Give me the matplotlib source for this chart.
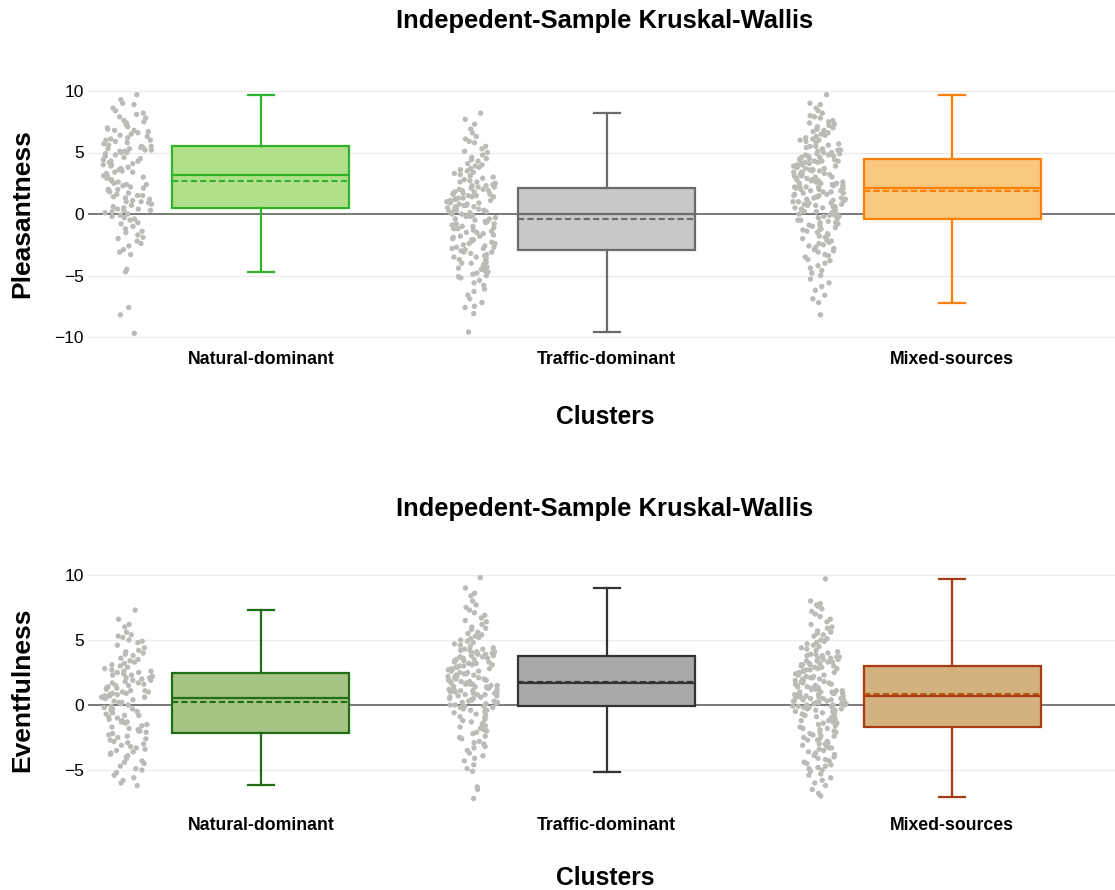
import matplotlib
matplotlib.use("Agg")
import matplotlib.pyplot as plt
import numpy as np

plt.rcParams['font.family'] = ['Liberation Sans', 'DejaVu Sans']

clusters = ["Natural-dominant", "Traffic-dominant", "Mixed-sources"]
title_text = "Indepedent-Sample Kruskal-Wallis"

# box statistics: [natural, traffic, mixed]
pleas_q1 = [0.46, -2.90, -0.43]
pleas_med = [3.20, 0.00, 2.14]
pleas_q3 = [5.53, 2.09, 4.44]
pleas_lo = [-4.69, -9.60, -7.20]
pleas_hi = [9.67, 8.24, 9.67]
pleas_mean = [2.70, -0.38, 1.87]

event_q1 = [-2.13, -0.08, -1.67]
event_med = [0.51, 1.72, 0.68]
event_q3 = [2.44, 3.77, 3.03]
event_lo = [-6.18, -5.13, -7.05]
event_hi = [7.28, 9.03, 9.72]
event_mean = [0.23, 1.75, 0.85]

# individual scores (estimated from the scatter)
pleas_natural = [
    -9.7, -8.2, -7.6, -4.7, -4.5, -3.3, -3.1, -2.9, -2.6, -2.4, -2.2, -2.0, -1.9, -1.7, -1.5, -1.4,
    -1.2, -1.0, -0.8, -0.7, -0.5, -0.4, -0.3, -0.2, -0.1, 0.0, 0.1, 0.2, 0.3, 0.3, 0.4, 0.4,
    0.5, 0.6, 0.7, 0.8, 0.9, 1.0, 1.0, 1.1, 1.2, 1.3, 1.4, 1.5, 1.5, 1.6, 1.7, 1.8,
    1.9, 2.0, 2.0, 2.1, 2.2, 2.3, 2.4, 2.4, 2.5, 2.6, 2.7, 2.8, 2.9, 3.0, 3.1, 3.1,
    3.3, 3.4, 3.4, 3.5, 3.6, 3.7, 3.8, 3.9, 4.0, 4.0, 4.1, 4.2, 4.3, 4.3, 4.4, 4.5,
    4.6, 4.7, 4.8, 4.9, 5.0, 5.0, 5.1, 5.1, 5.2, 5.2, 5.3, 5.3, 5.4, 5.4, 5.5, 5.5,
    5.6, 5.7, 5.8, 5.9, 6.0, 6.0, 6.1, 6.2, 6.3, 6.4, 6.5, 6.6, 6.7, 6.8, 6.8, 6.9,
    7.0, 7.1, 7.3, 7.4, 7.5, 7.6, 7.8, 7.9, 8.1, 8.2, 8.4, 8.6, 8.9, 9.0, 9.3, 9.7,
]
pleas_traffic = [
    8.2, 7.7, 7.3, 6.9, 6.6, 6.3, 6.1, 5.9, 5.8, 5.5, 5.3, 5.1, 5.0, 4.8, 4.6, 4.5, 4.4, 4.3, 4.1, 4.0,
    3.9, 3.8, 3.7, 3.6, 3.5, 3.4, 3.3, 3.2, 3.1, 3.0, 2.9, 2.8, 2.7, 2.6, 2.6, 2.5, 2.4, 2.3, 2.3, 2.2,
    2.2, 2.1, 2.0, 2.0, 1.9, 1.9, 1.8, 1.8, 1.7, 1.7, 1.6, 1.6, 1.5, 1.5, 1.4, 1.4, 1.3, 1.3, 1.2, 1.2,
    1.1, 1.1, 1.0, 1.0, 0.9, 0.9, 0.8, 0.8, 0.7, 0.7, 0.6, 0.6, 0.5, 0.5, 0.4, 0.4, 0.3, 0.3, 0.2, 0.2,
    0.1, 0.1, 0.0, 0.0, -0.1, -0.1, -0.2, -0.2, -0.3, -0.4, -0.4, -0.5, -0.6, -0.6, -0.7, -0.8, -0.8,
    -0.9, -1.0, -1.0, -1.1, -1.2, -1.2, -1.3, -1.4, -1.5, -1.5, -1.6, -1.7, -1.8, -1.8, -1.9, -2.0,
    -2.1, -2.1, -2.2, -2.3, -2.4, -2.4, -2.5, -2.6, -2.7, -2.7, -2.8, -2.8, -2.9, -3.0, -3.1, -3.1,
    -3.2, -3.3, -3.4, -3.5, -3.5, -3.6, -3.7, -3.8, -3.9, -4.0, -4.0, -4.1, -4.2, -4.3, -4.4, -4.5,
    -4.6, -4.7, -4.8, -4.9, -5.0, -5.1, -5.2, -5.4, -5.6, -5.8, -6.1, -6.3, -6.6, -6.9, -7.2, -7.5,
    -7.6, -8.1, -9.6,
]
pleas_mixed = [
    9.7, 9.0, 8.9, 8.6, 8.4, 8.2, 8.0, 7.9, 7.8, 7.6, 7.5, 7.4, 7.3, 7.2, 7.1, 7.0, 6.9, 6.8, 6.7, 6.6,
    6.5, 6.4, 6.3, 6.2, 6.1, 6.0, 6.0, 5.9, 5.8, 5.7, 5.6, 5.5, 5.5, 5.4, 5.3, 5.2, 5.2, 5.1, 5.0, 5.0,
    4.9, 4.9, 4.8, 4.8, 4.7, 4.7, 4.6, 4.6, 4.5, 4.5, 4.4, 4.4, 4.3, 4.3, 4.3, 4.2, 4.2, 4.1, 4.1, 4.0,
    4.0, 3.9, 3.9, 3.8, 3.8, 3.7, 3.7, 3.6, 3.6, 3.5, 3.5, 3.4, 3.4, 3.3, 3.3, 3.2, 3.2, 3.1, 3.1, 3.0,
    3.0, 2.9, 2.9, 2.8, 2.8, 2.7, 2.7, 2.6, 2.6, 2.5, 2.5, 2.5, 2.4, 2.4, 2.3, 2.3, 2.3, 2.2, 2.2, 2.2,
    2.1, 2.1, 2.0, 2.0, 1.9, 1.9, 1.8, 1.8, 1.7, 1.7, 1.6, 1.6, 1.5, 1.5, 1.4, 1.4, 1.3, 1.3, 1.2, 1.2,
    1.1, 1.1, 1.0, 1.0, 0.9, 0.9, 0.8, 0.8, 0.7, 0.7, 0.6, 0.6, 0.5, 0.5, 0.4, 0.4, 0.3, 0.3, 0.2, 0.2,
    0.1, 0.1, 0.0, 0.0, -0.1, -0.1, -0.2, -0.2, -0.3, -0.4, -0.5, -0.5, -0.6, -0.7, -0.7, -0.8, -0.9,
    -0.9, -1.0, -1.1, -1.2, -1.3, -1.3, -1.4, -1.5, -1.6, -1.7, -1.8, -1.9, -2.0, -2.1, -2.2, -2.3,
    -2.4, -2.5, -2.6, -2.7, -2.8, -2.9, -3.0, -3.1, -3.3, -3.4, -3.5, -3.7, -3.8, -4.0, -4.2, -4.4,
    -4.6, -4.8, -5.0, -5.3, -5.6, -5.9, -6.2, -6.6, -6.9, -7.2, -8.2,
]

event_natural = [
    7.3, 6.6, 6.2, 6.0, 5.6, 5.4, 5.3, 5.2, 5.0, 4.9, 4.8, 4.6, 4.4, 4.2, 4.1, 4.0, 3.9, 3.8, 3.6, 3.5,
    3.4, 3.3, 3.2, 3.1, 3.0, 2.9, 2.8, 2.7, 2.6, 2.6, 2.5, 2.5,
    2.4, 2.3, 2.3, 2.2, 2.1, 2.1, 2.0, 1.9, 1.9, 1.8, 1.7, 1.7, 1.6, 1.5, 1.5, 1.4, 1.3, 1.3, 1.2, 1.1,
    1.1, 1.0, 1.0, 0.9, 0.9, 0.8, 0.8, 0.7, 0.7, 0.6, 0.6, 0.5,
    0.5, 0.4, 0.3, 0.2, 0.2, 0.1, 0.0, -0.1, -0.2, -0.3, -0.3, -0.4, -0.5, -0.6, -0.7, -0.8, -0.8,
    -0.9, -1.0, -1.1, -1.2, -1.3, -1.3, -1.4, -1.5, -1.6, -1.7, -1.8, -1.9, -2.0, -2.0, -2.1,
    -2.2, -2.3, -2.4, -2.5, -2.6, -2.7, -2.8, -2.9, -3.0, -3.1, -3.2, -3.3, -3.4, -3.5, -3.6, -3.7,
    -3.8, -3.9, -4.0, -4.1, -4.3, -4.4, -4.5, -4.7, -4.9, -5.0, -5.2, -5.4, -5.6, -5.8, -6.0, -6.2,
]
event_traffic = [
    9.8, 9.0, 8.6, 8.4, 8.0, 7.7, 7.5, 7.3, 7.1, 6.9, 6.7, 6.5, 6.4, 6.2, 6.0, 5.9, 5.8, 5.6, 5.5, 5.4,
    5.3, 5.2, 5.1, 5.0, 4.9, 4.8, 4.7, 4.6, 4.5, 4.4, 4.3, 4.3, 4.2, 4.2, 4.1, 4.1, 4.0, 4.0, 3.9, 3.9,
    3.8, 3.8, 3.7, 3.7, 3.6, 3.6, 3.5, 3.5, 3.4, 3.4, 3.3, 3.3, 3.2, 3.2, 3.1, 3.1, 3.0, 3.0, 2.9, 2.9,
    2.8, 2.8, 2.7, 2.7, 2.6, 2.6, 2.5, 2.5, 2.4, 2.4, 2.3, 2.3, 2.2, 2.2, 2.1, 2.1, 2.0, 2.0, 1.9, 1.9,
    1.8, 1.8, 1.8, 1.7, 1.7, 1.6, 1.6, 1.6, 1.5, 1.5, 1.4, 1.4, 1.4, 1.3, 1.3, 1.2, 1.2, 1.2, 1.1, 1.1,
    1.0, 1.0, 1.0, 0.9, 0.9, 0.8, 0.8, 0.8, 0.7, 0.7, 0.6, 0.6, 0.5, 0.5, 0.4, 0.4, 0.3, 0.3, 0.2, 0.2,
    0.1, 0.1, 0.0, 0.0, -0.1, -0.1, -0.2, -0.2, -0.3, -0.4, -0.4, -0.5, -0.6, -0.7, -0.8, -0.9, -1.0,
    -1.1, -1.2, -1.3, -1.4, -1.5, -1.6, -1.7, -1.8, -1.9, -2.0, -2.1, -2.2, -2.4, -2.5, -2.6, -2.8,
    -2.9, -3.0, -3.2, -3.3, -3.5, -3.7, -3.9, -4.1, -4.3, -4.6, -4.9, -5.1, -6.3, -6.5, -7.2,
]
event_mixed = [
    9.7, 8.0, 7.8, 7.7, 7.6, 7.4, 7.2, 7.0, 6.8, 6.6, 6.4, 6.2, 6.0, 5.9, 5.7, 5.6, 5.5, 5.4, 5.3, 5.1,
    5.0, 4.9, 4.8, 4.7, 4.6, 4.5, 4.4, 4.3, 4.2, 4.1, 4.0, 3.9, 3.9, 3.8, 3.8, 3.7, 3.7, 3.6, 3.6, 3.5,
    3.5, 3.4, 3.4, 3.3, 3.3, 3.2, 3.2, 3.1, 3.1, 3.1, 3.0, 3.0, 2.9, 2.9, 2.8, 2.8, 2.7, 2.7, 2.6, 2.6,
    2.5, 2.5, 2.4, 2.4, 2.3, 2.3, 2.2, 2.2, 2.1, 2.1, 2.0, 2.0, 1.9, 1.9, 1.8, 1.8, 1.7, 1.7, 1.6, 1.6,
    1.5, 1.5, 1.4, 1.4, 1.3, 1.3, 1.2, 1.2, 1.1, 1.1, 1.0, 1.0, 1.0, 0.9, 0.9, 0.9, 0.8, 0.8, 0.8, 0.7,
    0.7, 0.6, 0.6, 0.6, 0.5, 0.5, 0.5, 0.4, 0.4, 0.4, 0.3, 0.3, 0.3, 0.2, 0.2, 0.2, 0.1, 0.1, 0.1, 0.0,
    0.0, 0.0, -0.1, -0.1, -0.1, -0.2, -0.2, -0.3, -0.3, -0.4, -0.4, -0.5, -0.5, -0.6, -0.6, -0.7, -0.7,
    -0.8, -0.8, -0.9, -1.0, -1.0, -1.1, -1.2, -1.2, -1.3, -1.4, -1.4, -1.5, -1.6,
    -1.7, -1.8, -1.8, -1.9, -2.0, -2.1, -2.1, -2.2, -2.3, -2.4, -2.4, -2.5, -2.6, -2.7, -2.7, -2.8,
    -2.9, -3.0, -3.0, -3.1, -3.2, -3.3, -3.3, -3.4, -3.5, -3.6, -3.7, -3.8, -3.9, -4.0, -4.1, -4.2,
    -4.3, -4.4, -4.5, -4.6, -4.7, -4.8, -4.9, -5.0, -5.1, -5.3, -5.4, -5.6, -5.8, -6.0, -6.2, -6.5,
    -6.8, -7.0,
]

top_lines = ["#2fb32a", "#6b6b6b", "#ff7f00"]
top_fills = ["#b2df8a", "#c8c8c8", "#f9c880"]
bot_lines = ["#1f6d14", "#333333", "#a83b12"]
bot_fills = ["#a6c486", "#a8a8a8", "#d4b27f"]
bot_means = ["#1f6d14", "#333333", "#b8560c"]

W, H = 1115, 890
PX_PER_CAT = 345.7
X_LEFT = 88
BOX_W = 0.512
PTS_OFFSET = -0.385
JITTER = 0.08


def jitter_offsets(values):
    """Spread points sideways in proportion to the local density (violin-like)."""
    v = np.asarray(values, dtype=float)
    dens = np.exp(-0.5 * ((v[:, None] - v[None, :]) / 0.9) ** 2).sum(axis=1)
    dens = dens / dens.max()
    idx = np.arange(len(v)) + 1.0
    # deterministic hash-like sequence in [-1, 1] for sideways placement
    u = (np.sin(idx * 12.9898) * 43758.5453) % 1.0 * 2 - 1
    return u * JITTER * (0.25 + 0.75 * dens)


def draw_panel(ax, groups, q1, med, q3, lo, hi, mean, lines, fills, means, ylim, yticks):
    ax.set_xlim(-0.5, -0.5 + (W - X_LEFT) / PX_PER_CAT)
    ax.set_ylim(*ylim)
    for yt in yticks:
        if yt != 0:
            ax.axhline(yt, color="#ececec", lw=1.0, zorder=0)
    ax.axhline(0, color="#6e6e6e", lw=1.3, zorder=1)

    for i, vals in enumerate(groups):
        xs = i + PTS_OFFSET + jitter_offsets(vals)
        ax.scatter(xs, vals, s=15, color="#bdbbb8", edgecolors="none", zorder=2)

        stats = [dict(q1=q1[i], med=med[i], q3=q3[i], whislo=lo[i], whishi=hi[i],
                      mean=mean[i], fliers=[])]
        c = lines[i]
        bp = ax.bxp(stats, positions=[i], widths=BOX_W, capwidths=0.075,
                    patch_artist=True, showmeans=True, meanline=True,
                    showfliers=False, manage_ticks=False,
                    boxprops=dict(facecolor=fills[i], edgecolor=c, linewidth=1.6),
                    whiskerprops=dict(color=c, linewidth=1.6),
                    capprops=dict(color=c, linewidth=1.6),
                    medianprops=dict(color=c, linewidth=1.6),
                    meanprops=dict(color=means[i], linewidth=1.5, linestyle=(0, (3, 1.5))))
        for art in bp["boxes"]:
            art.set_zorder(3)
        for key in ("whiskers", "caps", "medians", "means"):
            for art in bp[key]:
                art.set_zorder(4)

    ax.set_yticks(yticks)
    ax.set_yticklabels([f"{t}".replace("-", "\u2212") for t in yticks], fontsize=12.5)
    ax.set_xticks(range(len(clusters)))
    ax.set_xticklabels(clusters, fontsize=12.7, fontweight="bold")
    ax.tick_params(axis="both", length=0)
    ax.tick_params(axis="y", pad=3)
    ax.tick_params(axis="x", pad=6)
    for sp in ax.spines.values():
        sp.set_visible(False)


fig = plt.figure(figsize=(W / 100, H / 100), dpi=100)

# top panel: y=10 at 91px, y=-10 at 337px
top_ylim = (-10.5, 10.8)
ppu = (337 - 91) / 20
top_px = 91 - (top_ylim[1] - 10) * ppu
bot_px = 337 + (-10 - top_ylim[0]) * ppu
ax1 = fig.add_axes([X_LEFT / W, 1 - bot_px / H, 1 - X_LEFT / W, (bot_px - top_px) / H])
draw_panel(ax1, [pleas_natural, pleas_traffic, pleas_mixed],
           pleas_q1, pleas_med, pleas_q3, pleas_lo, pleas_hi, pleas_mean,
           top_lines, top_fills, top_lines, top_ylim, [-10, -5, 0, 5, 10])

# bottom panel: y=10 at 575px, y=-5 at 770px
bot_ylim = (-8.0, 10.8)
ppu = (770 - 575) / 15
top_px = 575 - (bot_ylim[1] - 10) * ppu
bot_px = 770 + (-5 - bot_ylim[0]) * ppu
ax2 = fig.add_axes([X_LEFT / W, 1 - bot_px / H, 1 - X_LEFT / W, (bot_px - top_px) / H])
draw_panel(ax2, [event_natural, event_traffic, event_mixed],
           event_q1, event_med, event_q3, event_lo, event_hi, event_mean,
           bot_lines, bot_fills, bot_means, bot_ylim, [-5, 0, 5, 10])

# titles and axis labels
fig.text(605 / W, 1 - 21 / H, title_text, ha="center", va="center", fontsize=18.4, fontweight="bold")
fig.text(605 / W, 1 - 509 / H, title_text, ha="center", va="center", fontsize=18.4, fontweight="bold")
fig.text(605 / W, 1 - 417 / H, "Clusters", ha="center", va="center", fontsize=17.7, fontweight="bold")
fig.text(605 / W, 1 - 878 / H, "Clusters", ha="center", va="center", fontsize=17.7, fontweight="bold")
fig.text(22 / W, 1 - 214 / H, "Pleasantness", ha="center", va="center", rotation=90,
         fontsize=19, fontweight="bold")
fig.text(22 / W, 1 - 690 / H, "Eventfulness", ha="center", va="center", rotation=90,
         fontsize=19, fontweight="bold")

fig.savefig("out.png", dpi=100, facecolor="white")
